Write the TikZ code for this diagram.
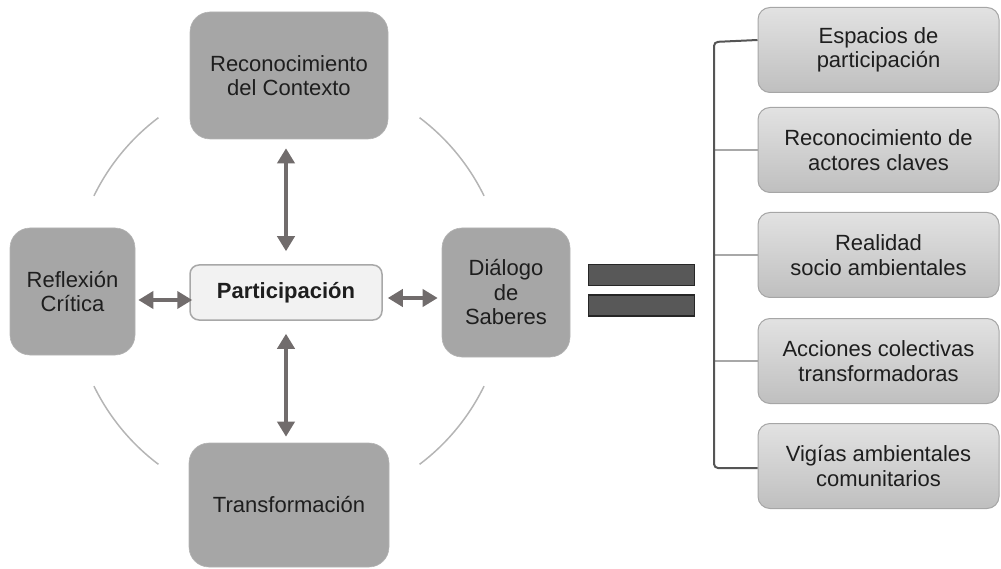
\documentclass[tikz,border=0pt]{standalone}
\usepackage{fontspec}
\setmainfont{Liberation Sans}
\usetikzlibrary{arrows.meta}
\definecolor{mainfill}{HTML}{A6A6A6}
\definecolor{mainline}{HTML}{B4B4B4}
\definecolor{arrowc}{HTML}{716C6C}
\definecolor{arcc}{HTML}{B5B5B5}
\definecolor{txt}{HTML}{1E1E1E}
\definecolor{partfill}{HTML}{F2F2F2}
\definecolor{partline}{HTML}{A8A8A8}
\definecolor{eqfill}{HTML}{585858}
\definecolor{eqline}{HTML}{262626}
\definecolor{rtop}{HTML}{E2E2E2}
\definecolor{rbot}{HTML}{BFBFBF}
\definecolor{rline}{HTML}{A6A6A6}
\definecolor{brk}{HTML}{555555}
\definecolor{branch}{HTML}{A8A8A8}
\tikzset{
  txtfont/.style={font=\fontsize{22}{24.5}\selectfont, text=txt, align=center},
  mainbox/.style={txtfont, fill=mainfill, draw=mainline, line width=0.6pt, rounded corners=20pt, inner sep=0pt},
  partbox/.style={font=\bfseries\fontsize{22}{24}\selectfont, text=txt, fill=partfill, draw=partline, line width=1.5pt, rounded corners=9pt, inner sep=0pt},
  rbox/.style={txtfont, top color=rtop, bottom color=rbot, draw=rline, line width=1pt, rounded corners=12pt, inner sep=0pt, minimum width=241pt, minimum height=85pt},
  eqbar/.style={fill=eqfill, draw=eqline, line width=1.6pt, minimum width=106pt, inner sep=0pt},
  dbl/.style={draw=arrowc, line width=4pt, {Triangle[width=17pt,length=15pt]}-{Triangle[width=17pt,length=15pt]}},
  circarc/.style={draw=arcc, line width=1.5pt},
  bracketline/.style={draw=brk, line width=2pt, rounded corners=4pt},
  branchline/.style={draw=branch, line width=1.3pt}
}
\begin{document}
\begin{tikzpicture}[x=1pt,y=-1pt]
\useasboundingbox (0,0) rectangle (1001,569);
% main boxes
\node[mainbox, minimum width=198pt, minimum height=127pt] (top) at (289,75.5) {Reconocimiento\\del Contexto};
\node[mainbox, minimum width=125pt, minimum height=127pt] (refl) at (72.5,291.5) {Reflexión\\Crítica};
\node[mainbox, minimum width=128pt, minimum height=129pt] (dia) at (506,292.5) {Diálogo\\de\\Saberes};
\node[mainbox, minimum width=200pt, minimum height=124pt] (bot) at (289,505) {Transformación};
\node[partbox, minimum width=192pt, minimum height=55pt] (part) at (286,292.5) {Participación};
% arcs
\coordinate (O) at (289,291);
\foreach \a/\b in {26/53, 127/154, 206/233, 307/334}
  \draw[circarc] ([shift={(\a:217pt)}]O) arc[start angle=\a, end angle=\b, radius=217pt];
% arrows
\coordinate (ayl) at (0,300);
\coordinate (ayr) at (0,298);
\draw[dbl] ([yshift=-9pt]top.south -| part.north) -- ([yshift=13pt]part.north);
\draw[dbl] ([yshift=-13pt]part.south) -- ([yshift=6pt]bot.north -| part.south);
\draw[dbl] ([xshift=3pt]refl.east |- ayl) -- ([xshift=3pt]part.west |- ayl);
\draw[dbl] ([xshift=5pt]part.east |- ayr) -- ([xshift=-4pt]dia.west |- ayr);
% equals sign
\node[eqbar, minimum height=21pt] (eq1) at (641.5,275) {};
\node[eqbar, minimum height=21pt] (eq2) at (641.5,305.5) {};
% right boxes
\node[rbox] (r1) at (878.5,50) {Espacios de\\participación};
\node[rbox] (r2) at (878.5,150) {Reconocimiento de\\actores claves};
\node[rbox] (r3) at (878.5,255) {Realidad\\socio ambientales};
\node[rbox] (r4) at (878.5,361) {Acciones colectivas\\transformadoras};
\node[rbox] (r5) at (878.5,466) {Vigías ambientales\\comunitarios};
% bracket
\coordinate (bx) at (714,0);
\draw[branchline] (r2.west) -- (r2.west -| bx);
\draw[branchline] (r3.west) -- (r3.west -| bx);
\draw[branchline] (r4.west) -- (r4.west -| bx);
\draw[bracketline] ([yshift=10pt]r1.west) -- ([yshift=8pt]r1.west -| bx) -- ([yshift=-2pt]r5.west -| bx) -- ([yshift=-2pt]r5.west);
\end{tikzpicture}
\end{document}
